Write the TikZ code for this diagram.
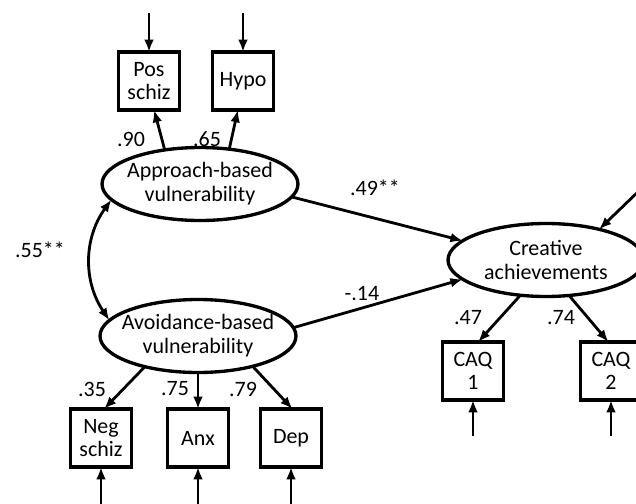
\documentclass[tikz,border=0pt]{standalone}
\usepackage{fontspec}
\setmainfont{Carlito}
\usetikzlibrary{shapes.geometric,arrows.meta}

\begin{document}
\begin{tikzpicture}[x=0.02cm, y=-0.02cm,
        font=\fontsize{12.5}{13.5}\selectfont,
        latent/.style={draw, ellipse, line width=1.9pt, minimum width=3.92cm,
            minimum height=1.46cm, inner xsep=-10pt, inner ysep=0pt,
            outer sep=0pt, align=center},
        observed/.style={draw, rectangle, line width=1.9pt, minimum width=1.22cm,
            minimum height=1.16cm, inner sep=0pt, outer sep=0pt, align=center},
        path/.style={line width=1.6pt, -{Latex[length=7pt, width=5.5pt]}},
        coef/.style={inner sep=0pt}]
        \useasboundingbox (0, 0) rectangle (636, 504);

        % latent nodes
        \node[latent] (app) at (200, 184) {Approach-based\\vulnerability};
        \node[latent] (avo) at (198, 336) {Avoidance-based\\vulnerability};
        \node[latent] (cre) at (546, 260) {Creative\\achievements};

        % indicators
        \node[observed] (pos) at (149, 81) {Pos\\schiz};
        \node[observed] (hypo) at (243, 81) {Hypo};
        \node[observed] (neg) at (101, 438) {Neg\\schiz};
        \node[observed] (anx) at (198, 438) {Anx};
        \node[observed] (dep) at (291, 438) {Dep};
        \node[observed] (caq1) at (473, 371) {CAQ\\1};
        \node[observed] (caq2) at (611, 371) {CAQ\\2};

        % error terms
        \coordinate (epos) at (149, 13);
        \coordinate (ehypo) at (243, 13);
        \coordinate (eneg) at (101, 504);
        \coordinate (eanx) at (198, 504);
        \coordinate (edep) at (291, 504);
        \coordinate (ecaq1) at (473, 436);
        \coordinate (ecaq2) at (611, 436);
        \coordinate (ecre) at (642, 188);

        \draw[path] (epos) -- (pos);
        \draw[path] (ehypo) -- (hypo);
        \draw[path] (eneg) -- (neg);
        \draw[path] (eanx) -- (anx);
        \draw[path] (edep) -- (dep);
        \draw[path] (ecaq1) -- (caq1);
        \draw[path] (ecaq2) -- (caq2);
        \draw[path] (ecre) -- (cre.30);

        % loadings
        \draw[path] (app.136) -- (pos.-80);
        \draw[path] (app.50) -- (hypo.-100);
        \draw[path] (avo.210) -- (neg.84);
        \draw[path] (avo.south) -- (anx.north);
        \draw[path] (avo.331) -- (dep.87);
        \draw[path] (cre.234) -- (caq1.80);
        \draw[path] (cre.303) -- (caq2.95);

        % structural paths
        \draw[path] (app.-8) -- (cre.167);
        \draw[path] (avo.5) -- (cre.193);
        % correlation
        \draw[line width=1.6pt, {Latex[length=7pt, width=5.5pt]}-{Latex[length=7pt, width=5.5pt]}]
            (app.190) to[bend right=35] (avo.170);

        % coefficients
        \node[coef] (l90) at (131, 139) {.90};
        \node[coef] (l65) at (207, 139) {.65};
        \node[coef] (l55) at (40, 250) {.55**};
        \node[coef] (l49) at (375, 188) {.49**};
        \node[coef] (l14) at (362, 294) {-.14};
        \node[coef] (l47) at (468, 318) {.47};
        \node[coef] (l74) at (561, 318) {.74};
        \node[coef] (l35) at (92, 389) {.35};
        \node[coef] (l75) at (175, 389) {.75};
        \node[coef] (l79) at (243, 389) {.79};
\end{tikzpicture}
\end{document}
